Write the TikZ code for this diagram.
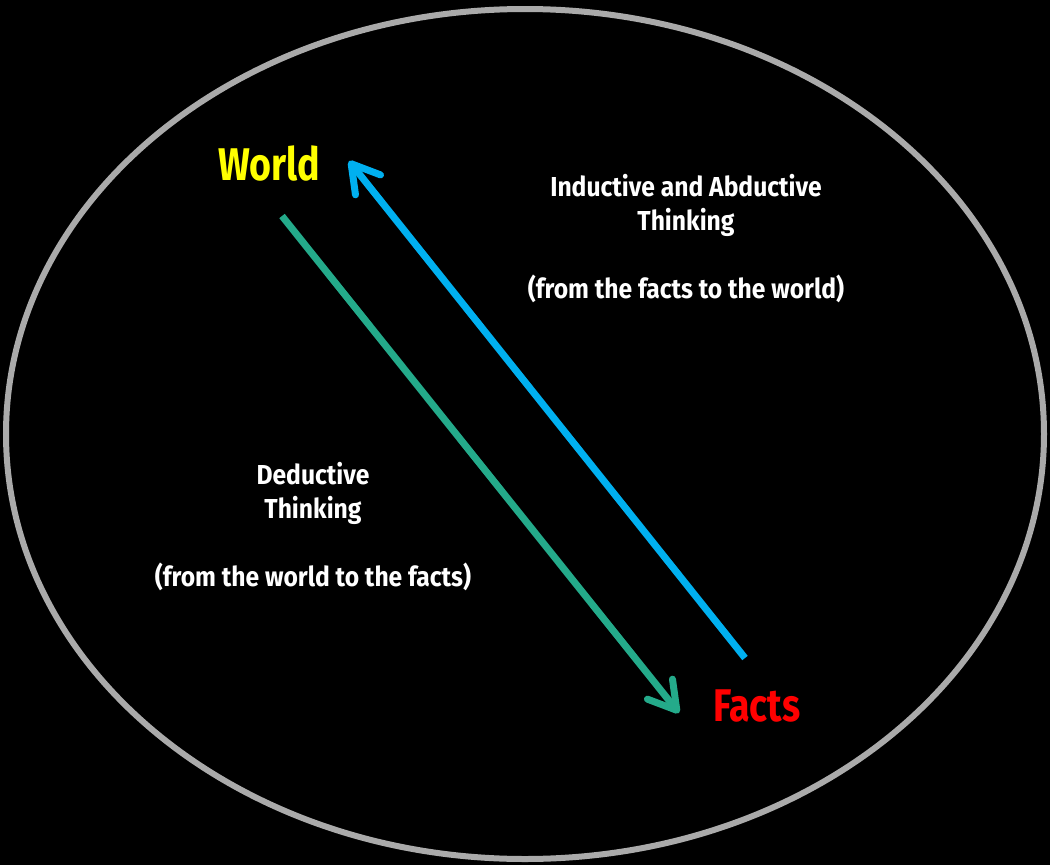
\documentclass[tikz,border=0pt]{standalone}
\usepackage{fontspec}
\setmainfont{Fira Sans}[FakeStretch=0.82]
\newfontfamily\lblfont{Fira Sans}[FakeStretch=0.9]
\usetikzlibrary{arrows.meta}
\definecolor{ringgray}{RGB}{170,170,170}
\definecolor{skyblue}{RGB}{0,176,240}
\definecolor{seagreen}{RGB}{36,170,138}
\definecolor{worldyellow}{RGB}{255,255,0}
\definecolor{factsred}{RGB}{255,0,0}
\begin{document}
\begin{tikzpicture}[x=1bp,y=-1bp,
  lbl/.style={text=white,font=\lblfont\bfseries\fontsize{27.5}{34}\selectfont,align=center,inner sep=0pt},
  big/.style={font=\bfseries\fontsize{46}{50}\selectfont,inner sep=0pt},
  arr/.style={line width=7bp,-{Straight Barb[length=27bp,width=32bp,line cap=round,line join=round]}}]
\fill[black] (0,0) rectangle (1050,865);
\useasboundingbox (0,0) rectangle (1050,865);
\draw[ringgray,line width=6bp] (525,434) ellipse [x radius=519,y radius=425];
\node[big,text=worldyellow] (world) at (269,163) {World};
\node[big,text=factsred] (facts) at (757,706) {Facts};
\coordinate (gs) at (282,216);
\coordinate (ge) at (679,713);
\coordinate (bs) at (745,658);
\coordinate (be) at (349,161);
\draw[arr,seagreen] (gs) -- (ge);
\draw[arr,skyblue] (bs) -- (be);
\node[lbl,anchor=north] (ind) at (686,174) {Inductive and Abductive\\Thinking\\[34bp](from the facts to the world)};
\node[lbl,anchor=north] (ded) at (313,462) {Deductive\\Thinking\\[34bp](from the world to the facts)};
\end{tikzpicture}
\end{document}
